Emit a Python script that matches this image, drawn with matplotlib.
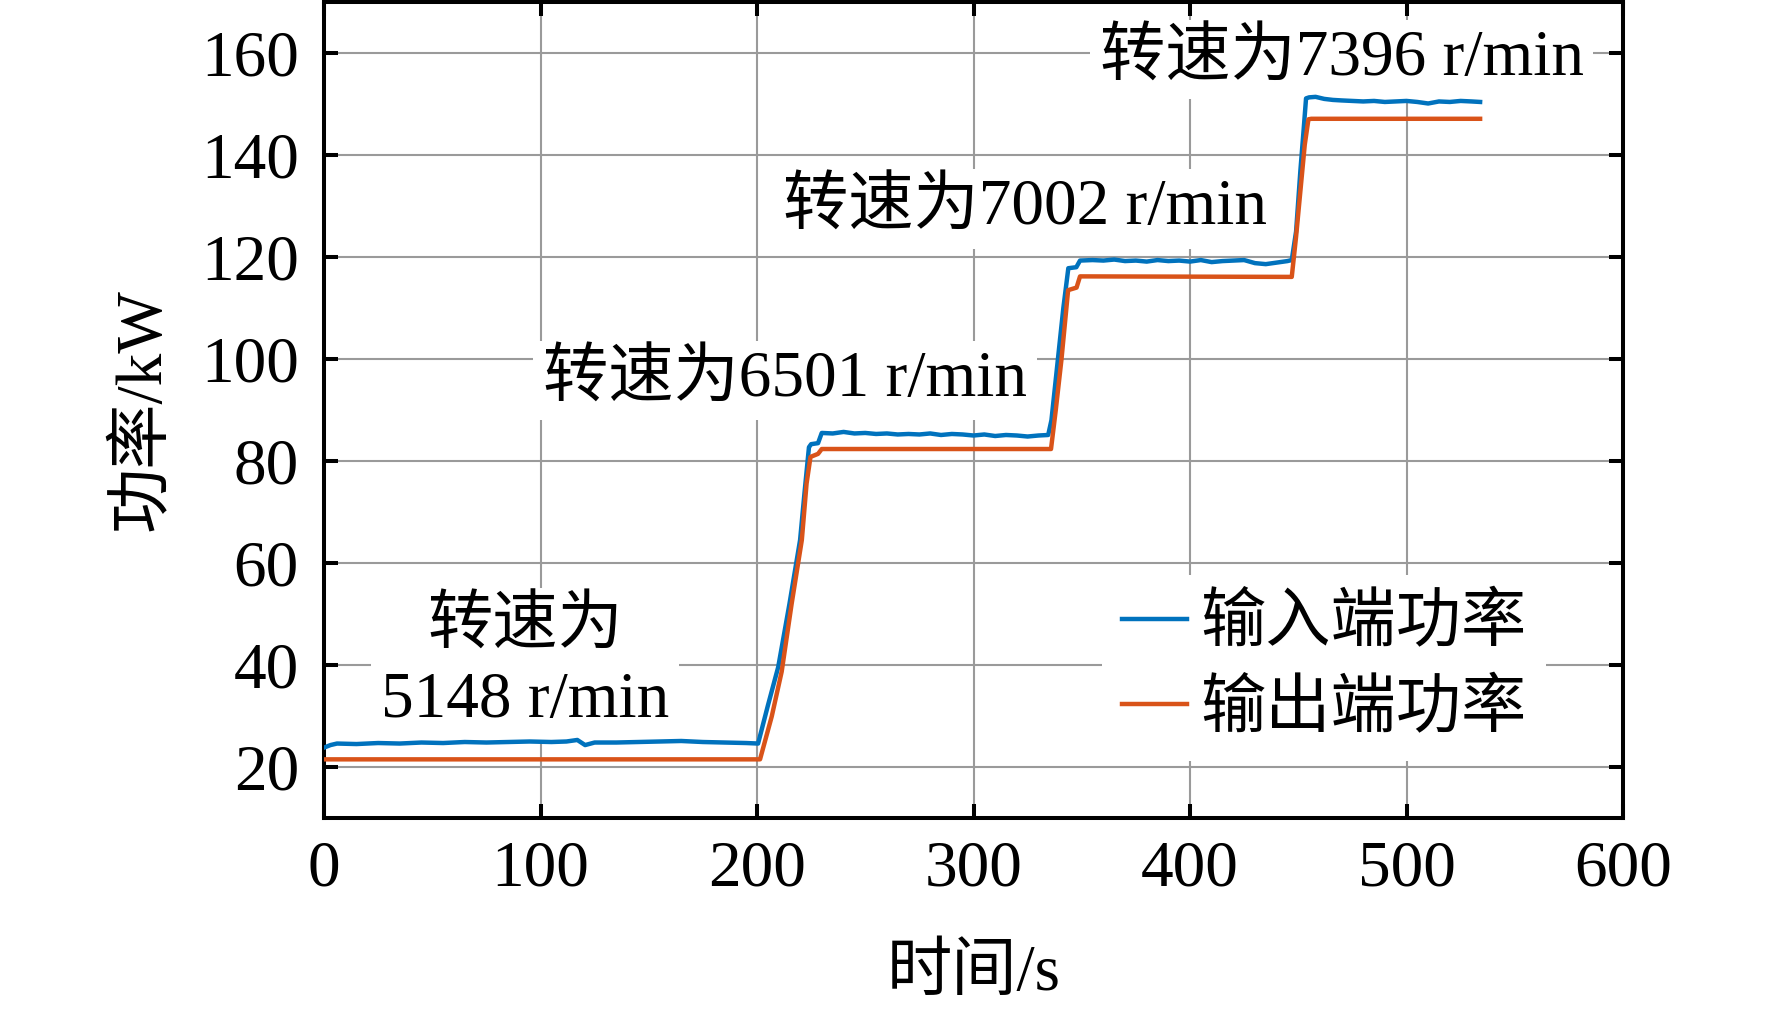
import matplotlib
matplotlib.use("Agg")
import matplotlib.pyplot as plt

plt.rcParams['font.family'] = ['Liberation Serif', 'Noto Sans CJK SC']
plt.rcParams['axes.unicode_minus'] = False

# ---- data ----
t_in = [0, 3, 6, 15, 25, 35, 45, 55, 65, 75, 85, 95, 105, 112, 117, 120.6, 125, 135, 145, 155,
        165, 175, 185, 195, 200.5,
        205, 209.8, 215, 219.9, 222, 224, 225, 228.2, 229.9,
        235, 240, 245, 250, 255, 260, 265, 270, 275, 280, 285, 290, 295, 300, 305, 310, 315,
        320, 325, 330, 334.5,
        336, 339, 341.5, 343.8, 347.5, 349.2,
        355, 360, 365, 370, 375, 380, 385, 390, 395, 400, 405, 410, 415, 420, 425, 430, 435,
        440, 445, 447,
        449, 451, 452.5, 453.6, 455, 458, 462, 466, 470, 475, 480, 485, 490, 495, 500, 505,
        510, 515, 520, 525, 530, 534]
p_in = [23.8, 24.3, 24.6, 24.5, 24.7, 24.6, 24.8, 24.7, 24.9, 24.8, 24.9, 25.0, 24.9, 25.0, 25.3, 24.3, 24.8, 24.8, 24.9, 25.0,
        25.1, 24.9, 24.8, 24.7, 24.6,
        32.0, 39.6, 52.0, 64.5, 74.0, 82.7, 83.3, 83.5, 85.5,
        85.4, 85.7, 85.4, 85.5, 85.3, 85.4, 85.2, 85.3, 85.2, 85.4, 85.1, 85.3, 85.2, 85.0, 85.2, 84.9, 85.1,
        85.0, 84.8, 85.0, 85.1,
        88.0, 100.0, 110.0, 117.8, 118.0, 119.3,
        119.4, 119.3, 119.5, 119.2, 119.3, 119.1, 119.4, 119.2, 119.3, 119.1, 119.4, 119.0, 119.2, 119.3, 119.4, 118.8, 118.6,
        118.9, 119.2, 119.4,
        125.0, 137.0, 145.0, 151.1, 151.3, 151.4, 151.0, 150.8, 150.7, 150.6, 150.5, 150.6, 150.4, 150.5, 150.6, 150.4,
        150.1, 150.5, 150.4, 150.6, 150.5, 150.4]

t_out = [0, 201.4, 206.8, 211.4, 216, 220.7, 222.9, 224.7, 228.2, 229.9,
         335.8, 338, 340.6, 343.7, 347.6, 349.2,
         447, 449, 451, 453, 454.7, 456, 534]
p_out = [21.5, 21.5, 29.9, 38.7, 52.0, 64.5, 75.6, 80.8, 81.4, 82.35,
         82.35, 90.0, 99.8, 113.5, 114.0, 116.2,
         116.1, 124.0, 133.0, 142.0, 147.0, 147.1, 147.1]

series_labels = ['输入端功率', '输出端功率']
series_colors = ['#0072BD', '#D95319']
xticks = [0, 100, 200, 300, 400, 500, 600]
yticks = [20, 40, 60, 80, 100, 120, 140, 160]

annotations = [
    ('转速为7396 r/min', 470, 158.7),
    ('转速为7002 r/min', 324, 129.4),
    ('转速为6501 r/min', 213, 95.8),
    ('转速为\n5148 r/min', 93, 40.2),
]

FS = 47

fig = plt.figure(figsize=(17.72, 10.13), dpi=100)
ax = fig.add_axes([324/1772, (1013-818)/1013, (1623-324)/1772, (818-2)/1013])

ax.plot(t_in, p_in, color=series_colors[0], lw=3.2, label=series_labels[0], zorder=3)
ax.plot(t_out, p_out, color=series_colors[1], lw=3.2, label=series_labels[1], zorder=3)

ax.set_xlim(0, 600)
ax.set_ylim(10, 170)
ax.set_xticks(xticks)
ax.set_yticks(yticks)
ax.set_axisbelow(True)
ax.grid(True, color='#9a9a9a', lw=1.5)

for s in ax.spines.values():
    s.set_linewidth(2.9)
ax.tick_params(direction='in', length=10, width=2.9, top=True, right=True,
               labelsize=FS, pad=16)
ax.tick_params(axis='y', pad=18)

ax.set_xlabel('时间/s', fontsize=FS, labelpad=32)
ax.set_ylabel('功率/kW', fontsize=FS, labelpad=20)

for txt, x, y in annotations:
    ax.text(x, y, txt, fontsize=FS, ha='center', va='center', multialignment='center',
            linespacing=1.3, zorder=2,
            bbox=dict(boxstyle='square,pad=0.15', fc='white', ec='none'))

leg = ax.legend(loc='center', bbox_to_anchor=(0.770, 0.184), frameon=True, fancybox=False,
                edgecolor='none', facecolor='white', framealpha=1, fontsize=FS,
                handlelength=1.0, handletextpad=0.2, labelspacing=0.38, borderpad=0.3,
                borderaxespad=0)
leg.set_zorder(5)

fig.savefig('out.png', dpi=100)
